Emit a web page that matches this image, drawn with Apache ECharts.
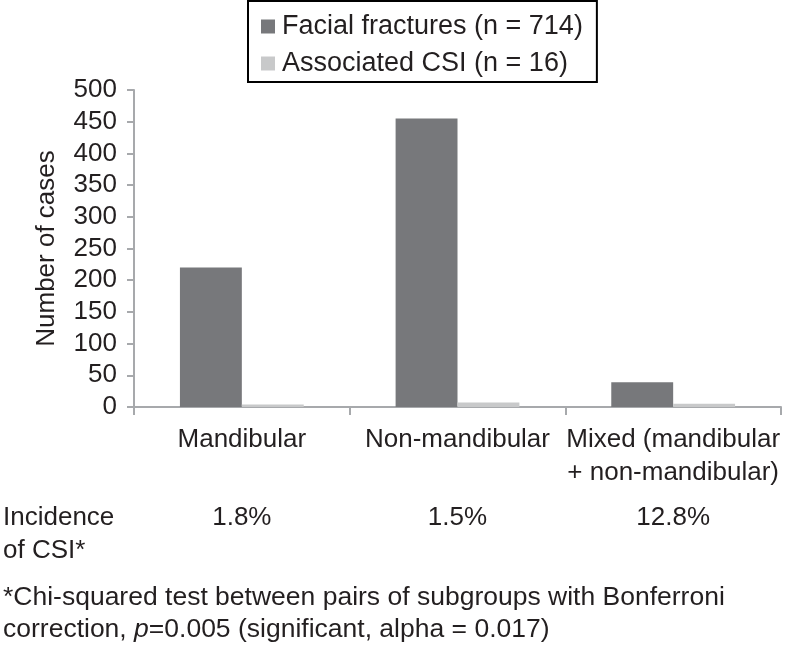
<!DOCTYPE html>
<html>
<head>
<meta charset="utf-8">
<script src="https://cdn.jsdelivr.net/npm/echarts@6/dist/echarts.min.js"></script>
<style>
html,body{margin:0;padding:0;background:#fff;}
#chart{width:785px;height:645px;}
</style>
</head>
<body>
<div id="chart"></div>
<script>
const categories = ['Mandibular', 'Non-mandibular', 'Mixed (mandibular\n+ non-mandibular)'];
const facialFractures = [220, 455, 39];
const associatedCSI = [4, 7, 5];
const incidence = ['1.8%', '1.5%', '12.8%'];
const seriesNames = ['Facial fractures (n = 714)', 'Associated CSI (n = 16)'];
const yTicks = { min: 0, max: 500, interval: 50 };

const FONT = '"Liberation Sans", Arial, sans-serif';
const TXT = '#231f20';
const AXIS = '#a7a9ac';

const chart = echarts.init(document.getElementById('chart'), null, { renderer: 'canvas' });
chart.setOption({
  animation: false,
  backgroundColor: '#fff',
  textStyle: { fontFamily: FONT, color: TXT },
  legend: {
    orient: 'vertical',
    left: 248,
    top: 1,
    padding: [12, 14, 5, 13],
    itemGap: 10,
    itemWidth: 14,
    itemHeight: 14,
    icon: 'rect',
    borderColor: '#000',
    borderWidth: 2,
    borderRadius: 0,
    textStyle: { fontSize: 27, color: TXT, fontFamily: FONT, padding: [0, 0, 0, 2] },
    data: seriesNames
  },
  grid: { left: 134, right: 4, top: 90, bottom: 238, containLabel: false },
  xAxis: [
    {
      type: 'category',
      data: categories,
      boundaryGap: true,
      axisLine: { show: true, lineStyle: { color: AXIS, width: 2 } },
      axisTick: { show: true, length: 8, lineStyle: { color: AXIS, width: 2 } },
      axisLabel: { color: TXT, fontSize: 26, fontFamily: FONT, lineHeight: 33, margin: 16, interval: 0 }
    },
    {
      type: 'category',
      data: categories,
      position: 'bottom',
      axisLine: { show: false },
      axisTick: { show: false },
      axisLabel: {
        color: TXT, fontSize: 26, fontFamily: FONT, lineHeight: 33, margin: 94, interval: 0,
        formatter: function (v, i) { return incidence[i]; }
      }
    }
  ],
  yAxis: {
    type: 'value',
    min: yTicks.min,
    max: yTicks.max,
    interval: yTicks.interval,
    name: 'Number of cases',
    nameLocation: 'middle',
    nameGap: 74,
    nameTextStyle: { fontSize: 26, color: TXT, fontFamily: FONT },
    axisLine: { show: true, lineStyle: { color: AXIS, width: 2 } },
    axisTick: { show: true, length: 7, lineStyle: { color: AXIS, width: 2 } },
    splitLine: { show: false },
    axisLabel: { color: TXT, fontSize: 26, fontFamily: FONT, margin: 17 }
  },
  series: [
    {
      name: seriesNames[0],
      type: 'bar',
      data: facialFractures,
      itemStyle: { color: '#77787b' },
      barGap: '0%',
      barCategoryGap: '42.6%'
    },
    {
      name: seriesNames[1],
      type: 'bar',
      data: associatedCSI,
      itemStyle: { color: '#c8c9ca' },
      barGap: '0%',
      barCategoryGap: '42.6%'
    }
  ],
  graphic: [
    {
      type: 'text',
      left: 3,
      top: 501,
      style: { text: 'Incidence\nof CSI*', fontSize: 26, lineHeight: 33, fill: TXT, fontFamily: FONT }
    },
    {
      type: 'text',
      left: 3,
      top: 582,
      style: {
        text: '*Chi-squared test between pairs of subgroups with Bonferroni\n{n|correction, }{i|p}{n|=0.005 (significant, alpha = 0.017)}',
        fontSize: 26.5, lineHeight: 32, fill: TXT, fontFamily: FONT,
        rich: {
          n: { fontSize: 26.5, fill: TXT, fontFamily: FONT },
          i: { fontSize: 26.5, fill: TXT, fontFamily: FONT, fontStyle: 'italic' }
        }
      }
    }
  ]
});
</script>
</body>
</html>
